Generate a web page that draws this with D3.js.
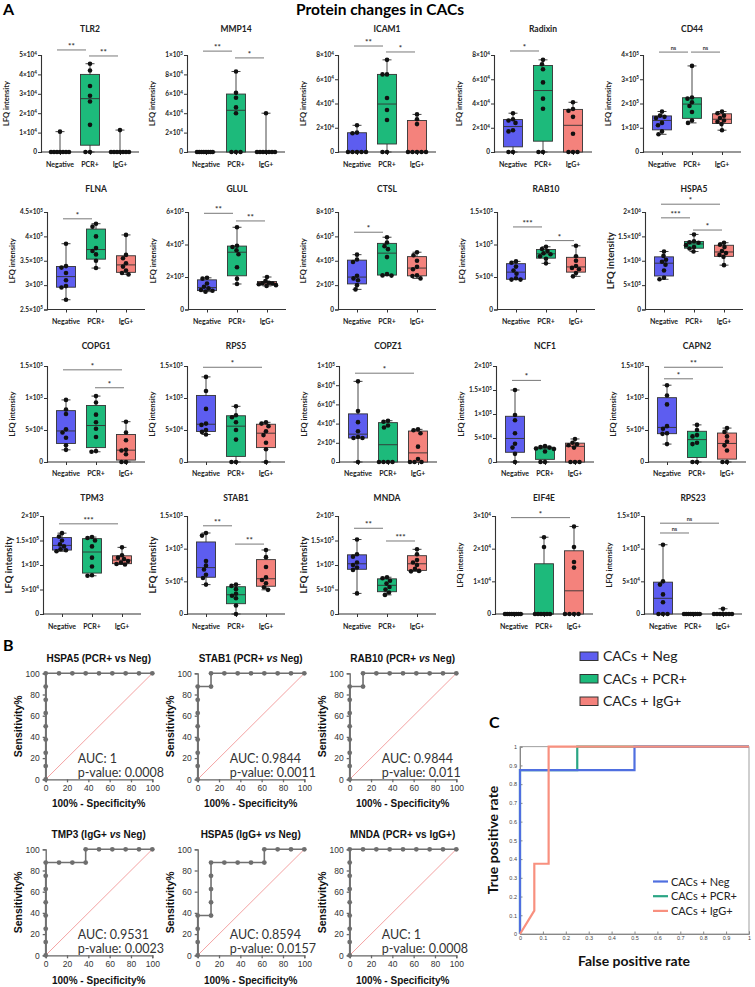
<!DOCTYPE html>
<html><head><meta charset="utf-8">
<script src="https://cdn.jsdelivr.net/npm/d3@7"></script>
<style>body{margin:0;background:#fff}svg{display:block}</style>
</head><body><svg id="fig" width="755" height="987"></svg>
<script>
// ---------------- DATA ----------------
const groups = ["Negative", "PCR+", "IgG+"];
const proteins = ["TLR2","MMP14","ICAM1","Radixin","CD44","FLNA","GLUL","CTSL","RAB10","HSPA5",
                  "COPG1","RPS5","COPZ1","NCF1","CAPN2","TPM3","STAB1","MNDA","EIF4E","RPS23"];
const yTicks = [
  [0,1e4,2e4,3e4,4e4,5e4],[0,2e4,4e4,6e4,8e4,1e5],[0,2e4,4e4,6e4,8e4],[0,2e4,4e4,6e4,8e4],[0,1e5,2e5,3e5,4e5],
  [2.5e5,3e5,3.5e5,4e5,4.5e5],[0,2e5,4e5,6e5],[0,2e5,4e5,6e5,8e5],[0,5e4,1e5,1.5e5],[0,5e5,1e6,1.5e6,2e6],
  [0,5e4,1e5,1.5e5],[0,5e4,1e5,1.5e5],[0,2e4,4e4,6e4,8e4,1e5],[0,5e4,1e5,1.5e5,2e5],[0,5e4,1e5,1.5e5],
  [0,5e4,1e5,1.5e5,2e5],[0,5e4,1e5,1.5e5],[0,5e4,1e5,1.5e5,2e5],[0,1e4,2e4,3e4],[0,5e4,1e5,1.5e5]
];
const negValues = [
  [0,0,0,0,0,0,0,1.05e4],
  [0,0,0,0,0,0,0,0],
  [0,0,0,0,0,1.55e4,1.6e4,2.2e4],
  [0,0,1.7e4,1.8e4,2.4e4,2.6e4,2.7e4,3.2e4],
  [0.73e5,0.85e5,1.1e5,1.2e5,1.4e5,1.45e5,1.5e5,1.67e5],
  [2.7e5,2.95e5,2.98e5,3.1e5,3.25e5,3.36e5,3.39e5,3.85e5],
  [1.1e5,1.15e5,1.2e5,1.3e5,1.4e5,1.6e5,1.9e5,1.95e5],
  [1.65e5,2.0e5,2.4e5,2.55e5,2.77e5,3.9e5,4.1e5,4.5e5],
  [4.6e4,4.6e4,4.8e4,5.5e4,6.0e4,6.6e4,7.2e4,7.4e4],
  [6.2e5,6.5e5,8.0e5,9.2e5,9.8e5,1.02e6,1.1e6,1.19e6],
  [1.9e4,2.6e4,3.8e4,4.6e4,5.1e4,7.5e4,8.2e4,9.7e4],
  [4.3e4,4.7e4,5.0e4,5.8e4,6.0e4,8.3e4,11.1e4,13.3e4],
  [0,2.5e4,2.5e4,2.6e4,3.2e4,4.15e4,5.3e4,8.4e4],
  [0,1.7e4,3.0e4,3.8e4,6.0e4,8.7e4,9.8e4,15e4],
  [2.8e4,4.4e4,4.5e4,5.2e4,5.6e4,9.0e4,10.4e4,12.0e4],
  [1.28e5,1.3e5,1.32e5,1.38e5,1.42e5,1.5e5,1.58e5,1.65e5],
  [4.5e4,5.5e4,6.0e4,6.8e4,7.4e4,8.1e4,12.0e4,12.4e4],
  [0.42e5,0.9e5,0.95e5,1.0e5,1.05e5,1.17e5,1.22e5,1.52e5],
  [0,0,0,0,0,0,0,0],
  [0,0,0,1.8e4,3.0e4,4.5e4,5.0e4,10.6e4]
];
const pcrValues = [
  [0,0,1.4e4,2.6e4,2.9e4,3.4e4,4.2e4,4.55e4],
  [0,0,0,4.0e4,4.6e4,5.6e4,6.1e4,8.3e4],
  [0,0,2.64e4,3.46e4,4.45e4,6.4e4,6.4e4,7.6e4],
  [0,0,3.57e4,4.4e4,5.74e4,6.83e4,7.24e4,7.6e4],
  [1.2e5,1.3e5,1.65e5,1.9e5,2.05e5,2.2e5,2.25e5,3.55e5],
  [3.35e5,3.5e5,3.63e5,3.7e5,3.76e5,4.0e5,4.2e5,4.26e5],
  [1.57e5,1.9e5,2.6e5,3.4e5,3.65e5,3.85e5,3.92e5,5.06e5],
  [2.78e5,2.8e5,2.9e5,4.3e5,4.95e5,5.2e5,5.5e5,5.93e5],
  [7.1e4,7.8e4,8.2e4,8.5e4,8.65e4,9.0e4,9.3e4,9.65e4],
  [1.19e6,1.25e6,1.28e6,1.32e6,1.37e6,1.38e6,1.40e6,1.54e6],
  [1.6e4,1.7e4,3.9e4,5.2e4,6.2e4,7.4e4,9.3e4,10.3e4],
  [0,0,3.5e4,5.0e4,6.2e4,7.0e4,7.3e4,8.7e4],
  [0,0,0,0,3.6e4,3.8e4,4.2e4,4.3e4],
  [0,0,2.2e4,2.7e4,2.8e4,3.0e4,3.1e4,3.3e4],
  [0,0,2.8e4,3.0e4,4.0e4,4.2e4,5.0e4,5.8e4],
  [0.78e5,0.79e5,0.97e5,1.15e5,1.38e5,1.5e5,1.55e5,1.57e5],
  [0,1.3e4,2.4e4,2.8e4,3.1e4,3.8e4,4.3e4,4.5e4],
  [0.39e5,0.44e5,0.5e5,0.55e5,0.62e5,0.68e5,0.73e5,0.75e5],
  [0,0,0,0,0,0,2.05e4,2.35e4],
  [0,0,0,0,0,0,0,0]
];
const iggValues = [
  [0,0,0,0,0,0,0,1.13e4],
  [0,0,0,0,0,0,0,4.0e4],
  [0,0,0,0,0,2.3e4,2.7e4,3.1e4],
  [0,0,0,1.5e4,2.9e4,3.4e4,3.55e4,4.1e4],
  [0.9e5,1.15e5,1.25e5,1.3e5,1.4e5,1.5e5,1.6e5,1.67e5],
  [3.22e5,3.25e5,3.3e5,3.38e5,3.45e5,3.55e5,3.62e5,4.03e5],
  [1.45e5,1.5e5,1.55e5,1.6e5,1.62e5,1.65e5,1.75e5,2.0e5],
  [2.55e5,2.75e5,2.8e5,3.3e5,3.5e5,4.0e5,4.45e5,4.7e5],
  [5.1e4,5.6e4,6.2e4,6.4e4,6.7e4,7.5e4,8.2e4,9.8e4],
  [0.91e6,1.08e6,1.12e6,1.16e6,1.2e6,1.28e6,1.33e6,1.37e6],
  [0,0,1.2e4,1.8e4,1.9e4,3.4e4,4.6e4,6.3e4],
  [0,2.0e4,3.0e4,4.2e4,4.8e4,5.6e4,6.0e4,6.2e4],
  [0,0,0,0.3e4,1.6e4,3.0e4,3.3e4,3.4e4],
  [0,0,0,3.0e4,3.5e4,3.7e4,4.0e4,4.8e4],
  [0,0,1.8e4,2.6e4,3.2e4,4.0e4,4.7e4,5.3e4],
  [1.01e5,1.02e5,1.05e5,1.08e5,1.12e5,1.15e5,1.2e5,1.36e5],
  [3.7e4,4.1e4,4.7e4,5.2e4,5.6e4,7.2e4,8.7e4,9.8e4],
  [0.87e5,0.88e5,0.92e5,1.0e5,1.05e5,1.1e5,1.22e5,1.32e5],
  [0,0,0,0,1.42e4,1.59e4,2.05e4,2.68e4],
  [0,0,0,0,0,0,0,0.8e4]
];
// significance: [protein index, group a, group b, bar level (data units), label]
const sigBars = [
  [0,0,1,5.26e4,"**"],[0,1,2,4.95e4,"**"],
  [1,0,1,1.04e5,"**"],[1,1,2,0.97e5,"*"],
  [2,0,1,8.74e4,"**"],[2,1,2,8.25e4,"*"],
  [3,0,1,8.33e4,"*"],
  [4,0,1,4.12e5,"ns"],[4,1,2,4.12e5,"ns"],
  [5,0,1,4.36e5,"*"],
  [6,0,1,5.92e5,"**"],[6,1,2,5.45e5,"**"],
  [7,0,1,6.34e5,"*"],
  [8,0,1,1.27e5,"***"],[8,1,2,1.06e5,"*"],
  [9,0,2,2.16e6,"*"],[9,0,1,1.88e6,"***"],[9,1,2,1.63e6,"*"],
  [10,0,2,1.44e5,"*"],[10,1,2,1.16e5,"*"],
  [11,0,2,1.48e5,"*"],
  [12,0,2,9.25e4,"*"],
  [13,0,1,1.7e5,"*"],
  [14,0,2,1.48e5,"**"],[14,0,1,1.3e5,"*"],
  [15,0,2,1.84e5,"***"],
  [16,0,1,1.35e5,"**"],[16,1,2,1.07e5,"**"],
  [17,0,1,1.75e5,"**"],[17,1,2,1.49e5,"***"],
  [18,0,2,2.95e4,"*"],
  [19,0,2,1.39e5,"ns"],[19,0,1,1.24e5,"ns"]
];

// ROC (panel B)
const rocTitles = [
  ["HSPA5 (PCR+ ","vs"," Neg)",false],["STAB1 (PCR+ ","vs"," Neg)",true],["RAB10 (PCR+ ","vs"," Neg)",true],
  ["TMP3 (IgG+ ","vs"," Neg)",true],["HSPA5 (IgG+ ","vs"," Neg)",true],["MNDA (PCR+ ","vs"," IgG+)",false]
];
const rocFpr = [
  [0,0,0,0,0,0,0,0,0,12.5,25,37.5,50,62.5,75,87.5,100],
  [0,0,0,0,0,0,0,0,12.5,12.5,25,37.5,50,62.5,75,87.5,100],
  [0,0,0,0,0,0,0,0,12.5,12.5,25,37.5,50,62.5,75,87.5,100],
  [0,0,0,0,0,0,0,0,12.5,25,37.5,37.5,50,62.5,75,87.5,100],
  [0,0,0,0,12.5,12.5,12.5,12.5,12.5,25,37.5,50,62.5,62.5,75,87.5,100],
  [0,0,0,0,0,0,0,0,0,12.5,25,37.5,50,62.5,75,87.5,100]
];
const rocTpr = [
  [0,12.5,25,37.5,50,62.5,75,87.5,100,100,100,100,100,100,100,100,100],
  [0,12.5,25,37.5,50,62.5,75,87.5,87.5,100,100,100,100,100,100,100,100],
  [0,12.5,25,37.5,50,62.5,75,87.5,87.5,100,100,100,100,100,100,100,100],
  [0,12.5,25,37.5,50,62.5,75,87.5,87.5,87.5,87.5,100,100,100,100,100,100],
  [0,12.5,25,37.5,37.5,50,62.5,75,87.5,87.5,87.5,87.5,87.5,100,100,100,100],
  [0,12.5,25,37.5,50,62.5,75,87.5,100,100,100,100,100,100,100,100,100]
];
const rocAuc = ["1","0.9844","0.9844","0.9531","0.8594","1"];
const rocP = ["0.0008","0.0011","0.011","0.0023","0.0157","0.0008"];
const rocTicks = [0,20,40,60,80,100];

// Panel C
const cLabels = ["CACs + Neg","CACs + PCR+","CACs + IgG+"];
const cFpr = [[0,0,0.5,0.5,1],[0,0,0.25,0.25,1],[0,0.0625,0.0625,0.125,0.125,1]];
const cTpr = [[0,0.875,0.875,1,1],[0,0.875,0.875,1,1],[0,0.125,0.375,0.375,1,1]];
const cTicks = [0,0.1,0.2,0.3,0.4,0.5,0.6,0.7,0.8,0.9,1];

// ---------------- STYLE / LAYOUT ----------------
const fills = ["#5d5df0","#1dba7b","#f4827c"];
const cColors = ["#4f6fe0","#2aa584","#f8907f"];
const cDrawOrder = [1,0,2];
const axisX = [[41,187,338,494,643],[47,188,338,497,645],[47,187,339,496,648],[43,187,338,495,644]];
const rowTop = [55,212,366,516], rowBot = [152,309.5,462,614];
const titleY = [32,192,349,501], catY = [167,324,476,629];
const bigLabel = ["HSPA5","TPM3","STAB1","MNDA"];
const F = "Lato, 'Open Sans', sans-serif";
const svg = d3.select("#fig");

function quant(s, p){ const n=s.length, pos=(n+1)*p; if(pos<=1) return s[0]; if(pos>=n) return s[n-1];
  const lo=Math.floor(pos); return s[lo-1]+(pos-lo)*(s[lo]-s[lo-1]); }
function tickLabel(sel, v){
  if(v===0){ sel.text("0"); return; }
  const e=Math.floor(Math.log10(v)+1e-9), m=+(v/Math.pow(10,e)).toFixed(2);
  sel.text(m+"×10"); sel.append("tspan").attr("dy",-2.5).attr("font-size","0.72em").text(e);
}
// simple beeswarm offsets (pixel space)
function swarm(pys, d){
  const placed=[];
  pys.forEach(py => {
    let off=0;
    for(let k=0;k<80;k++){
      const o = (k%2===0?1:-1)*Math.ceil(k/2)*0.5;
      if(placed.every(q => (o-q.o)*(o-q.o)+(py-q.py)*(py-q.py) >= d*d)){ off=o; break; }
    }
    placed.push({py, o:off});
  });
  const m = d3.max(placed, p=>Math.abs(p.o));
  const sc = m>9 ? 9/m : 1;
  placed.forEach(p => p.o*=sc);
  return placed;
}

svg.append("text").attr("x",3).attr("y",15).attr("font-family",F).attr("font-weight",700).attr("font-size",16).text("A");
svg.append("text").attr("x",380).attr("y",15).attr("text-anchor","middle").attr("font-family",F).attr("font-weight",700).attr("font-size",15.5).text("Protein changes in CACs");

proteins.forEach((name, pi) => {
  const r = Math.floor(pi/5), c = pi%5;
  const x0 = axisX[r][c], W = 98;
  const tk = yTicks[pi];
  const y = d3.scaleLinear().domain([tk[0], tk[tk.length-1]]).range([rowBot[r], rowTop[r]]);
  const x = d3.scalePoint().domain(groups).range([x0+19, x0+79]);
  const g = svg.append("g").attr("font-family",F).attr("font-weight",700);
  g.append("text").attr("x",x0+49).attr("y",titleY[r]).attr("text-anchor","middle").attr("font-size",8.5).attr("fill","#222").text(name);
  const ya = g.append("g").attr("transform",`translate(${x0},0)`).call(d3.axisLeft(y).tickValues(tk).tickSize(3).tickFormat(""));
  ya.select(".domain").attr("stroke","#333").attr("stroke-width",1.1);
  ya.selectAll(".tick line").attr("stroke","#333");
  tk.forEach(v => g.append("text").attr("x",x0-4).attr("y",y(v)+2.3).attr("text-anchor","end").attr("font-size",6.5).attr("fill","#222").call(tickLabel, v));
  const xa = g.append("g").attr("transform",`translate(0,${rowBot[r]})`).call(d3.axisBottom(x).tickSize(3).tickFormat(""));
  xa.select(".domain").attr("d",`M${x0},0H${x0+W}`).attr("stroke","#333").attr("stroke-width",1.1);
  xa.selectAll(".tick line").attr("stroke","#333");
  groups.forEach(gn => g.append("text").attr("x",x(gn)).attr("y",catY[r]).attr("text-anchor","middle").attr("font-size",7).attr("fill","#222").text(gn));
  const big = bigLabel.includes(name);
  g.append("text").attr("transform",`translate(${x0-(big?31:32)},${(rowTop[r]+rowBot[r])/2}) rotate(-90)`)
    .attr("text-anchor","middle").attr("font-size",big?9.5:7.5).attr("fill","#222").text("LFQ intensity");
  [negValues[pi], pcrValues[pi], iggValues[pi]].forEach((vals, gi) => {
    const s = vals.slice().sort((a,b)=>a-b);
    const q1=quant(s,0.25), md=quant(s,0.5), q3=quant(s,0.75), mn=s[0], mx=s[s.length-1];
    const cx = x(groups[gi]), bw = 19;
    const wl = g.append("g").attr("stroke","#333").attr("stroke-width",0.9);
    wl.append("line").attr("x1",cx).attr("x2",cx).attr("y1",y(mx)).attr("y2",y(mn));
    wl.append("line").attr("x1",cx-4.5).attr("x2",cx+4.5).attr("y1",y(mx)).attr("y2",y(mx));
    wl.append("line").attr("x1",cx-4.5).attr("x2",cx+4.5).attr("y1",y(mn)).attr("y2",y(mn));
    g.append("rect").attr("x",cx-bw/2).attr("width",bw).attr("y",y(q3)).attr("height",Math.max(0,y(q1)-y(q3)))
      .attr("fill",fills[gi]).attr("stroke","#333").attr("stroke-width",0.9);
    g.append("line").attr("x1",cx-bw/2).attr("x2",cx+bw/2).attr("y1",y(md)).attr("y2",y(md)).attr("stroke","#333").attr("stroke-width",0.9);
    const pys = s.map(v => y(v)).sort((a,b)=>a-b);
    swarm(pys, 4.4).forEach(p => g.append("circle").attr("cx",cx+p.o).attr("cy",p.py).attr("r",2.3).attr("fill","#111"));
  });
  sigBars.filter(b => b[0]===pi).forEach(b => {
    const xa1 = x(groups[b[1]]) + (b[1]===0 ? -3 : -1), xa2 = x(groups[b[2]]) + (b[1]===0 ? -4 : -2);
    const yy = y(b[3]);
    g.append("line").attr("x1",xa1).attr("x2",xa2).attr("y1",yy).attr("y2",yy).attr("stroke","#555").attr("stroke-width",0.8);
    g.append("text").attr("x",(xa1+xa2)/2).attr("y",yy-(b[4]==="ns"?2:1)).attr("text-anchor","middle")
      .attr("font-size",b[4]==="ns"?5.5:8).attr("fill","#333").text(b[4]);
  });
});

// ---------------- PANEL B ----------------
const AF = "'Liberation Sans', Arial, sans-serif";
svg.append("text").attr("x",3).attr("y",651).attr("font-family",F).attr("font-weight",700).attr("font-size",16).text("B");
const rocX0 = [45.7,197.7,349.7], rocY0 = [779.3,955.3], rocTitleY = [662,838], rocLabY = [807,984];
rocTitles.forEach((t, k) => {
  const r = Math.floor(k/3), c = k%3;
  const x = d3.scaleLinear().domain([0,100]).range([rocX0[c], rocX0[c]+106.6]);
  const y = d3.scaleLinear().domain([0,100]).range([rocY0[r], rocY0[r]-106]);
  const g = svg.append("g").attr("font-family",AF);
  const tt = g.append("text").attr("x",rocX0[c]+53).attr("y",rocTitleY[r]).attr("text-anchor","middle").attr("font-weight",700).attr("font-size",10).attr("fill","#111");
  tt.append("tspan").text(t[0]); tt.append("tspan").attr("font-style",t[3]?"italic":"normal").text(t[1]); tt.append("tspan").text(t[2]);
  const xa = g.append("g").attr("transform",`translate(0,${rocY0[r]})`).call(d3.axisBottom(x).tickValues(rocTicks).tickSize(3));
  const ya = g.append("g").attr("transform",`translate(${rocX0[c]},0)`).call(d3.axisLeft(y).tickValues(rocTicks).tickSize(3));
  [xa,ya].forEach(a => { a.selectAll(".domain,.tick line").attr("stroke","#666").attr("stroke-width",1.3);
    a.selectAll("text").attr("font-family",AF).attr("font-size",8.5).attr("fill","#333"); });
  g.append("text").attr("x",rocX0[c]+53).attr("y",rocLabY[r]).attr("text-anchor","middle").attr("font-weight",700).attr("font-size",10).attr("fill","#111").text("100% - Specificity%");
  g.append("text").attr("transform",`translate(${rocX0[c]-24},${rocY0[r]-53}) rotate(-90)`).attr("text-anchor","middle").attr("font-weight",700).attr("font-size",10.5).attr("fill","#111").text("Sensitivity%");
  g.append("line").attr("x1",x(0)).attr("y1",y(0)).attr("x2",x(100)).attr("y2",y(100)).attr("stroke","#f08a8a").attr("stroke-width",0.8);
  const pts = rocFpr[k].map((f,i)=>[f, rocTpr[k][i]]);
  g.append("path").attr("d",d3.line().x(d=>x(d[0])).y(d=>y(d[1]))(pts)).attr("fill","none").attr("stroke","#707070").attr("stroke-width",1.6);
  pts.forEach(p => g.append("circle").attr("cx",x(p[0])).attr("cy",y(p[1])).attr("r",2.4).attr("fill","#6e6e6e"));
  g.append("text").attr("x",x(30)).attr("y",y(15)).attr("font-family",F).attr("font-size",12.5).attr("fill","#333").text("AUC: "+rocAuc[k]);
  g.append("text").attr("x",x(30)).attr("y",y(2.5)).attr("font-family",F).attr("font-size",12.5).attr("fill","#333").text("p-value: "+rocP[k]);
});

// big legend
cLabels.forEach((l,i) => {
  svg.append("rect").attr("x",580).attr("y",652+i*22.5).attr("width",18).attr("height",8.5).attr("fill",fills[i]).attr("stroke","#333").attr("stroke-width",1);
  svg.append("text").attr("x",603).attr("y",661+i*22.5).attr("font-family",F).attr("font-size",14).attr("fill","#222").text(l);
});

// ---------------- PANEL C ----------------
svg.append("text").attr("x",489).attr("y",728).attr("font-family",F).attr("font-weight",700).attr("font-size",16).text("C");
const cx = d3.scaleLinear().domain([0,1]).range([520,749]);
const cy = d3.scaleLinear().domain([0,1]).range([934,746.7]);
const cg = svg.append("g");
cg.append("rect").attr("x",520).attr("y",746.7).attr("width",229).attr("height",187.3).attr("fill","none").attr("stroke","#888").attr("stroke-width",0.8);
const cxa = cg.append("g").attr("transform","translate(0,934)").call(d3.axisBottom(cx).tickValues(cTicks).tickSize(-2.5).tickFormat(d=>d));
const cya = cg.append("g").attr("transform","translate(520,0)").call(d3.axisLeft(cy).tickValues(cTicks).tickSize(-2.5).tickFormat(d=>d));
[cxa,cya].forEach(a => { a.select(".domain").attr("stroke","#888"); a.selectAll(".tick line").attr("stroke","#888");
  a.selectAll("text").attr("font-family",AF).attr("font-size",5.5).attr("fill","#444"); });
cxa.selectAll("text").attr("dy","0.6em");
cDrawOrder.forEach(i => {
  const pts = cFpr[i].map((v,j)=>[v, cTpr[i][j]]);
  cg.append("path").attr("d",d3.line().x(d=>cx(d[0])).y(d=>cy(d[1]))(pts)).attr("fill","none").attr("stroke",cColors[i]).attr("stroke-width",2.2);
});
cLabels.forEach((l,i) => {
  cg.append("line").attr("x1",653).attr("x2",668).attr("y1",881.5+i*14.7).attr("y2",881.5+i*14.7).attr("stroke",cColors[i]).attr("stroke-width",2.2);
  cg.append("text").attr("x",671).attr("y",885.5+i*14.7).attr("font-family",F).attr("font-size",11).attr("fill","#222").text(l);
});
cg.append("text").attr("x",634).attr("y",966).attr("text-anchor","middle").attr("font-family",F).attr("font-weight",700).attr("font-size",14).attr("fill","#111").text("False positive rate");
cg.append("text").attr("transform","translate(498,840) rotate(-90)").attr("text-anchor","middle").attr("font-family",F).attr("font-weight",700).attr("font-size",14).attr("fill","#111").text("True positive rate");
</script></body></html>
